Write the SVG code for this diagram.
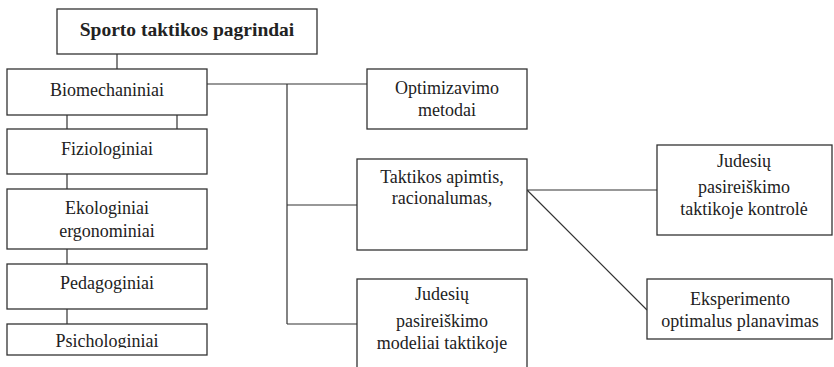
<svg xmlns="http://www.w3.org/2000/svg" width="834" height="367" viewBox="0 0 834 367">
<style>
.box{fill:#fff;stroke:#333;stroke-width:1.3}
.t{font-size:18px;fill:#222;text-anchor:middle}
.b{font-weight:bold;font-size:19.5px}
.c{fill:none;stroke:#333;stroke-width:1.2}
</style>
<defs><clipPath id="cp"><rect x="0" y="320" width="834" height="28"/></clipPath></defs>
<rect width="834" height="367" fill="#fff"/>
<g id="connectors">
<path class="c" d="M117 54V69M67 115V129M177 115V129M67 174V189M67 249V264M67 309V324"/>
<path class="c" d="M207 84H367M287 84V324M287 205H357M287 324H357"/>
<path class="c" d="M527 190H657M527 190L647 310"/>
</g>
<g id="nodes" font-family="Times New Roman, Liberation Serif, serif">
<g id="n-root"><rect class="box" x="57" y="9" width="260" height="45"/><text class="t b" x="187" y="36">Sporto taktikos pagrindai</text></g>
<g id="n-bio"><rect class="box" x="7" y="69" width="200" height="46"/><text class="t" x="107" y="96">Biomechaniniai</text></g>
<g id="n-fiz"><rect class="box" x="7" y="129" width="200" height="45"/><text class="t" x="107" y="155">Fiziologiniai</text></g>
<g id="n-eko"><rect class="box" x="7" y="189" width="200" height="60"/><text class="t" x="107" y="214">Ekologiniai</text><text class="t" x="107" y="237">ergonominiai</text></g>
<g id="n-ped"><rect class="box" x="7" y="264" width="200" height="45"/><text class="t" x="107" y="289">Pedagoginiai</text></g>
<g id="n-psi"><rect class="box" x="7" y="324" width="200" height="31"/><text class="t" x="107" y="347" clip-path="url(#cp)">Psichologiniai</text></g>
<g id="n-opt"><rect class="box" x="367" y="69" width="160" height="60"/><text class="t" x="447" y="94">Optimizavimo</text><text class="t" x="447" y="116">metodai</text></g>
<g id="n-tak"><rect class="box" x="357" y="159" width="170" height="91"/><text class="t" x="442" y="183">Taktikos apimtis,</text><text class="t" x="442" y="204">racionalumas,</text></g>
<g id="n-jmod"><rect class="box" x="357" y="279" width="170" height="95"/><text class="t" x="442" y="300">Judesių</text><text class="t" x="442" y="327">pasireiškimo</text><text class="t" x="442" y="349">modeliai taktikoje</text></g>
<g id="n-jkon"><rect class="box" x="657" y="145" width="175" height="90"/><text class="t" x="744" y="167">Judesių</text><text class="t" x="744" y="193">pasireiškimo</text><text class="t" x="744" y="215">taktikoje kontrolė</text></g>
<g id="n-eks"><rect class="box" x="647" y="279" width="185" height="60"/><text class="t" x="740" y="305">Eksperimento</text><text class="t" x="740" y="327">optimalus planavimas</text></g>
</g>
</svg>
